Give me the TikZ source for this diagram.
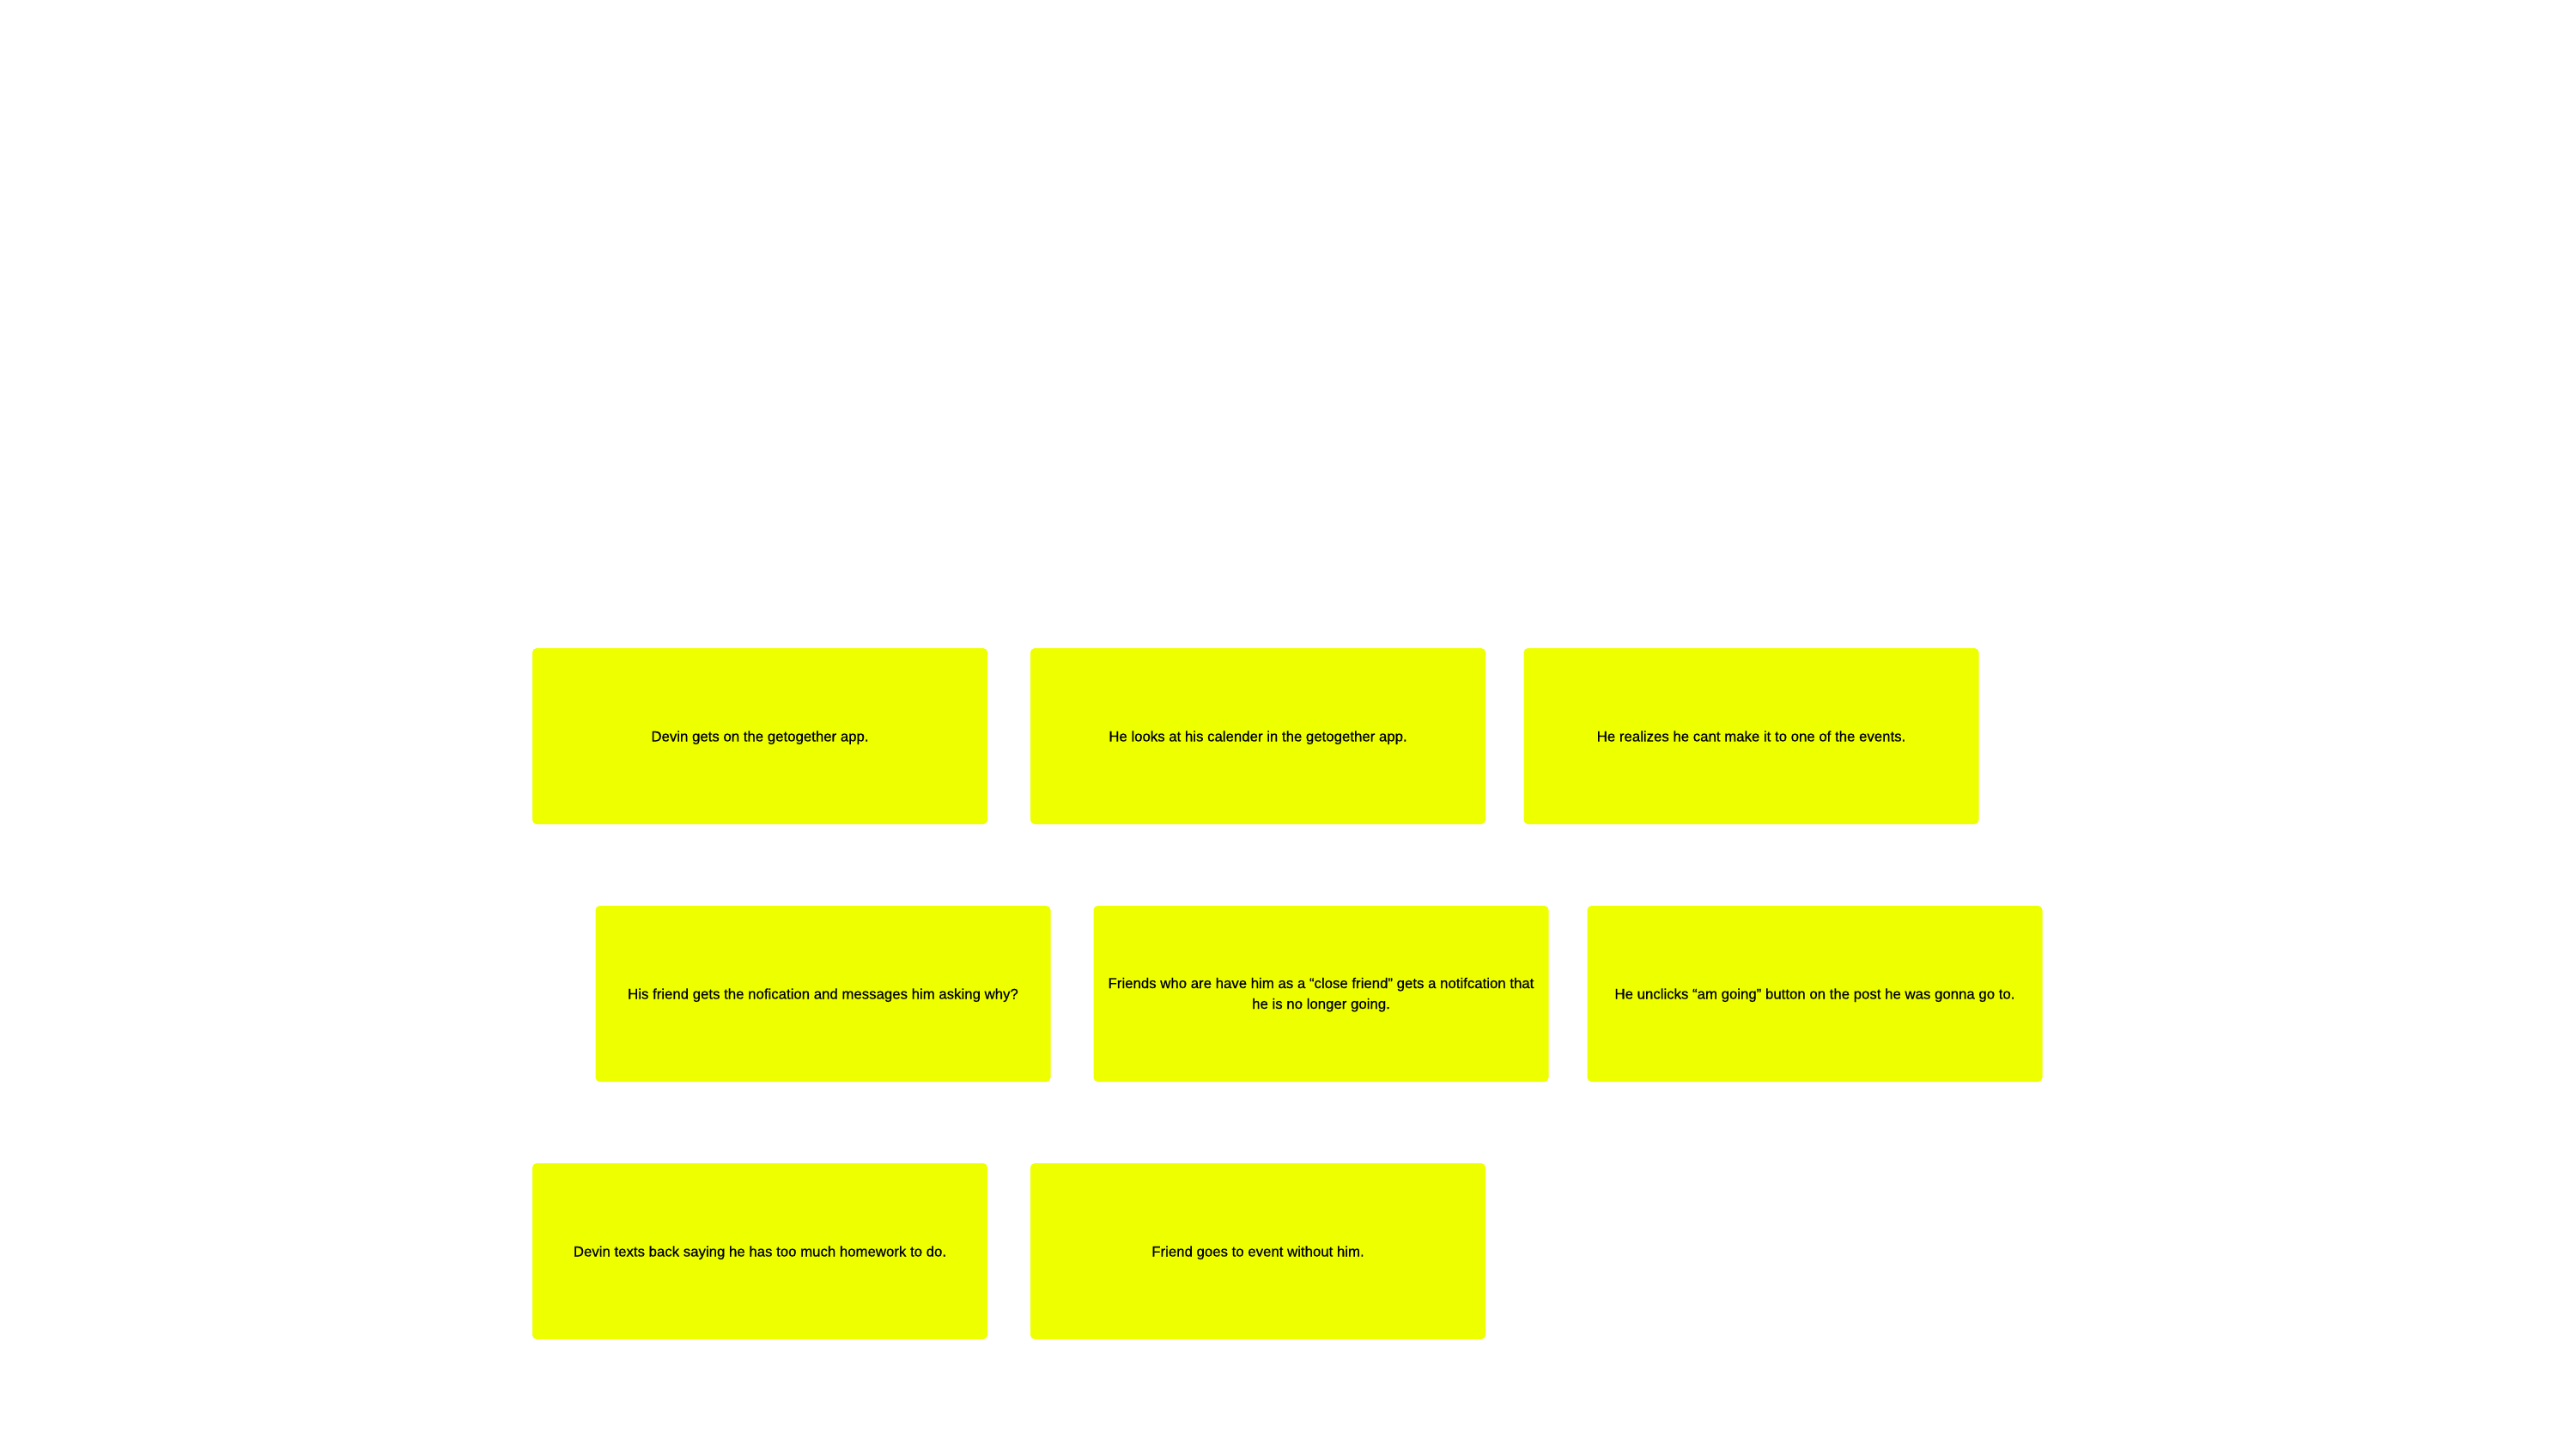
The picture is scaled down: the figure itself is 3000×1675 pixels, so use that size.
\documentclass[tikz,border=0pt]{standalone}
\usepackage{fontspec}
\setmainfont{Liberation Sans}
\newfontface\medfont{Liberation Sans}[FakeBold=0.4]
\definecolor{sticky}{RGB}{238,255,0}
\begin{document}
\begin{tikzpicture}[x=1pt,y=-1pt,
  sticky/.style={fill=sticky,draw=none,rounded corners=5pt,minimum width=530pt,minimum height=205pt,
    inner sep=0pt,align=center,font=\medfont\fontsize{16.8}{24}\selectfont,text=black,
    text height=12pt,text depth=0pt}]
\useasboundingbox[fill=white] (0,0) rectangle (3000,1675);
\node[sticky] (a) at (885,857.5) {Devin gets on the getogether app.};
\node[sticky] (b) at (1465,857.5) {He looks at his calender in the getogether app.};
\node[sticky] (c) at (2039.5,857.5) {He realizes he cant make it to one of the events.};
\node[sticky] (d) at (958.5,1157.5) {His friend gets the nofication and messages him asking why?};
\node[sticky,text height=35pt] (e) at (1538.5,1157.5) {Friends who are have him as a “close friend” gets a notifcation that\\he is no longer going.};
\node[sticky] (f) at (2113.5,1157.5) {He unclicks “am going” button on the post he was gonna go to.};
\node[sticky] (g) at (885,1457.5) {Devin texts back saying he has too much homework to do.};
\node[sticky] (h) at (1465,1457.5) {Friend goes to event without him.};
\end{tikzpicture}
\end{document}
